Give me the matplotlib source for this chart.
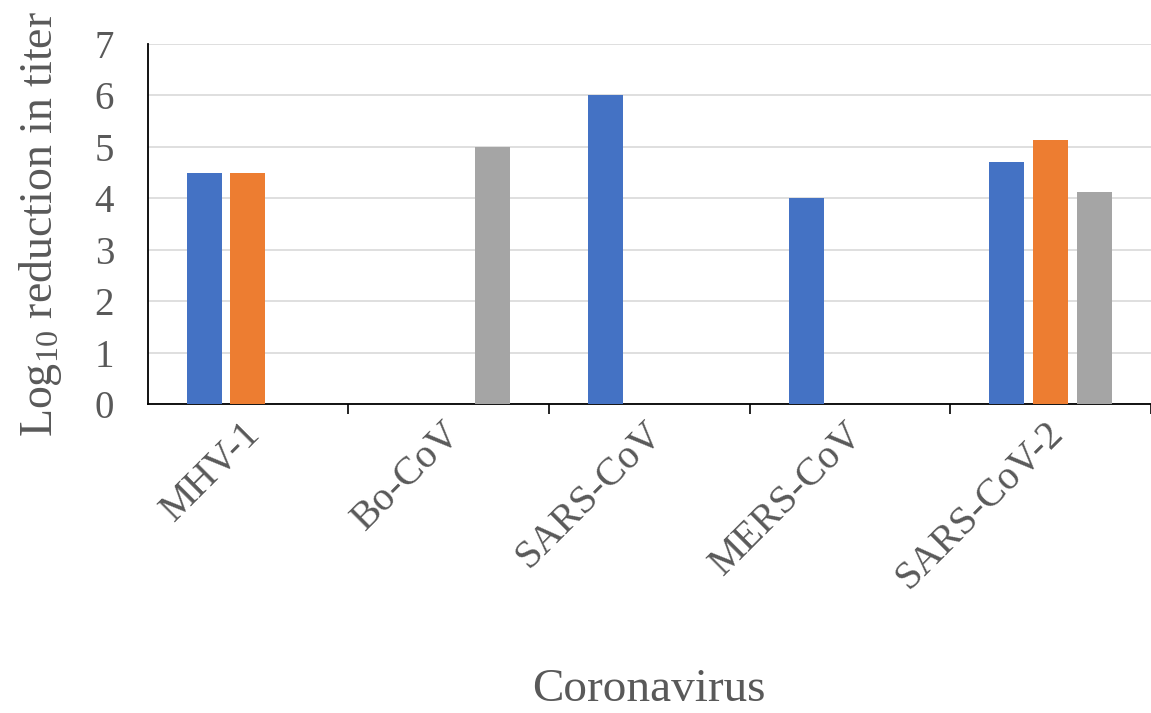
import numpy as np
import matplotlib
matplotlib.use('Agg')
import matplotlib.pyplot as plt
import matplotlib.transforms as mtransforms

plt.rcParams['font.family'] = ['Liberation Serif', 'DejaVu Serif']
plt.rcParams['mathtext.fontset'] = 'custom'
plt.rcParams['mathtext.rm'] = 'Liberation Serif'
plt.rcParams['mathtext.it'] = 'Liberation Serif:italic'

# 데이터
viruses = ['MHV-1', 'Bo-CoV', 'SARS-CoV', 'MERS-CoV', 'SARS-CoV-2']
series_blue = [4.5, 0, 6.0, 4.0, 4.7]
series_orange = [4.5, 0, 0, 0, 5.13]
series_gray = [0, 5.0, 0, 0, 4.12]

txt = '#595959'
x = np.arange(len(viruses))
w = 0.174
off = 0.218

fig = plt.figure(figsize=(11.51, 7.13), dpi=100)
ax = fig.add_axes([147.5 / 1151, 309 / 713, 1003.5 / 1151, 360 / 713])

ax.bar(x - off, series_blue, width=w, color='#4472C4', zorder=3)
ax.bar(x, series_orange, width=w, color='#ED7D31', zorder=3)
ax.bar(x + off, series_gray, width=w, color='#A5A5A5', zorder=3)

ax.set_ylim(0, 7)
ax.set_yticks(range(8))
ax.set_xlim(-0.5, -0.5 + 1003.5 / 201.7)
ax.grid(axis='y', color='#D9D9D9', linewidth=1.2, zorder=0)

for s in ['top', 'right']:
    ax.spines[s].set_visible(False)
ax.spines['left'].set_color('black')
ax.spines['bottom'].set_color('black')
ax.spines['left'].set_linewidth(1.3)
ax.spines['bottom'].set_linewidth(1.3)

ax.tick_params(axis='y', length=0, pad=24, labelsize=28, labelcolor=txt)
ax.set_xticks(x)
ax.set_xticklabels(viruses, rotation=45, ha='right', rotation_mode='anchor',
                   fontsize=29, color=txt)
ax.tick_params(axis='x', which='major', length=0, pad=8)
ax.set_xticks(np.arange(0.5, 4.6, 1), minor=True)
ax.tick_params(axis='x', which='minor', length=7, width=1.2, color='black', direction='out')

# 라벨 조금 왼쪽으로
shift = mtransforms.ScaledTranslation(-6 / 100, 0, fig.dpi_scale_trans)
for lab in ax.get_xticklabels():
    lab.set_transform(lab.get_transform() + shift)

ax.set_ylabel('Log$_{10}$ reduction in titer', fontsize=33, color=txt, labelpad=22)
fig.text(649 / 1151, 1 - 690 / 713, 'Coronavirus', fontsize=34, color=txt,
         ha='center', va='center')

plt.savefig('out.png', dpi=100)
